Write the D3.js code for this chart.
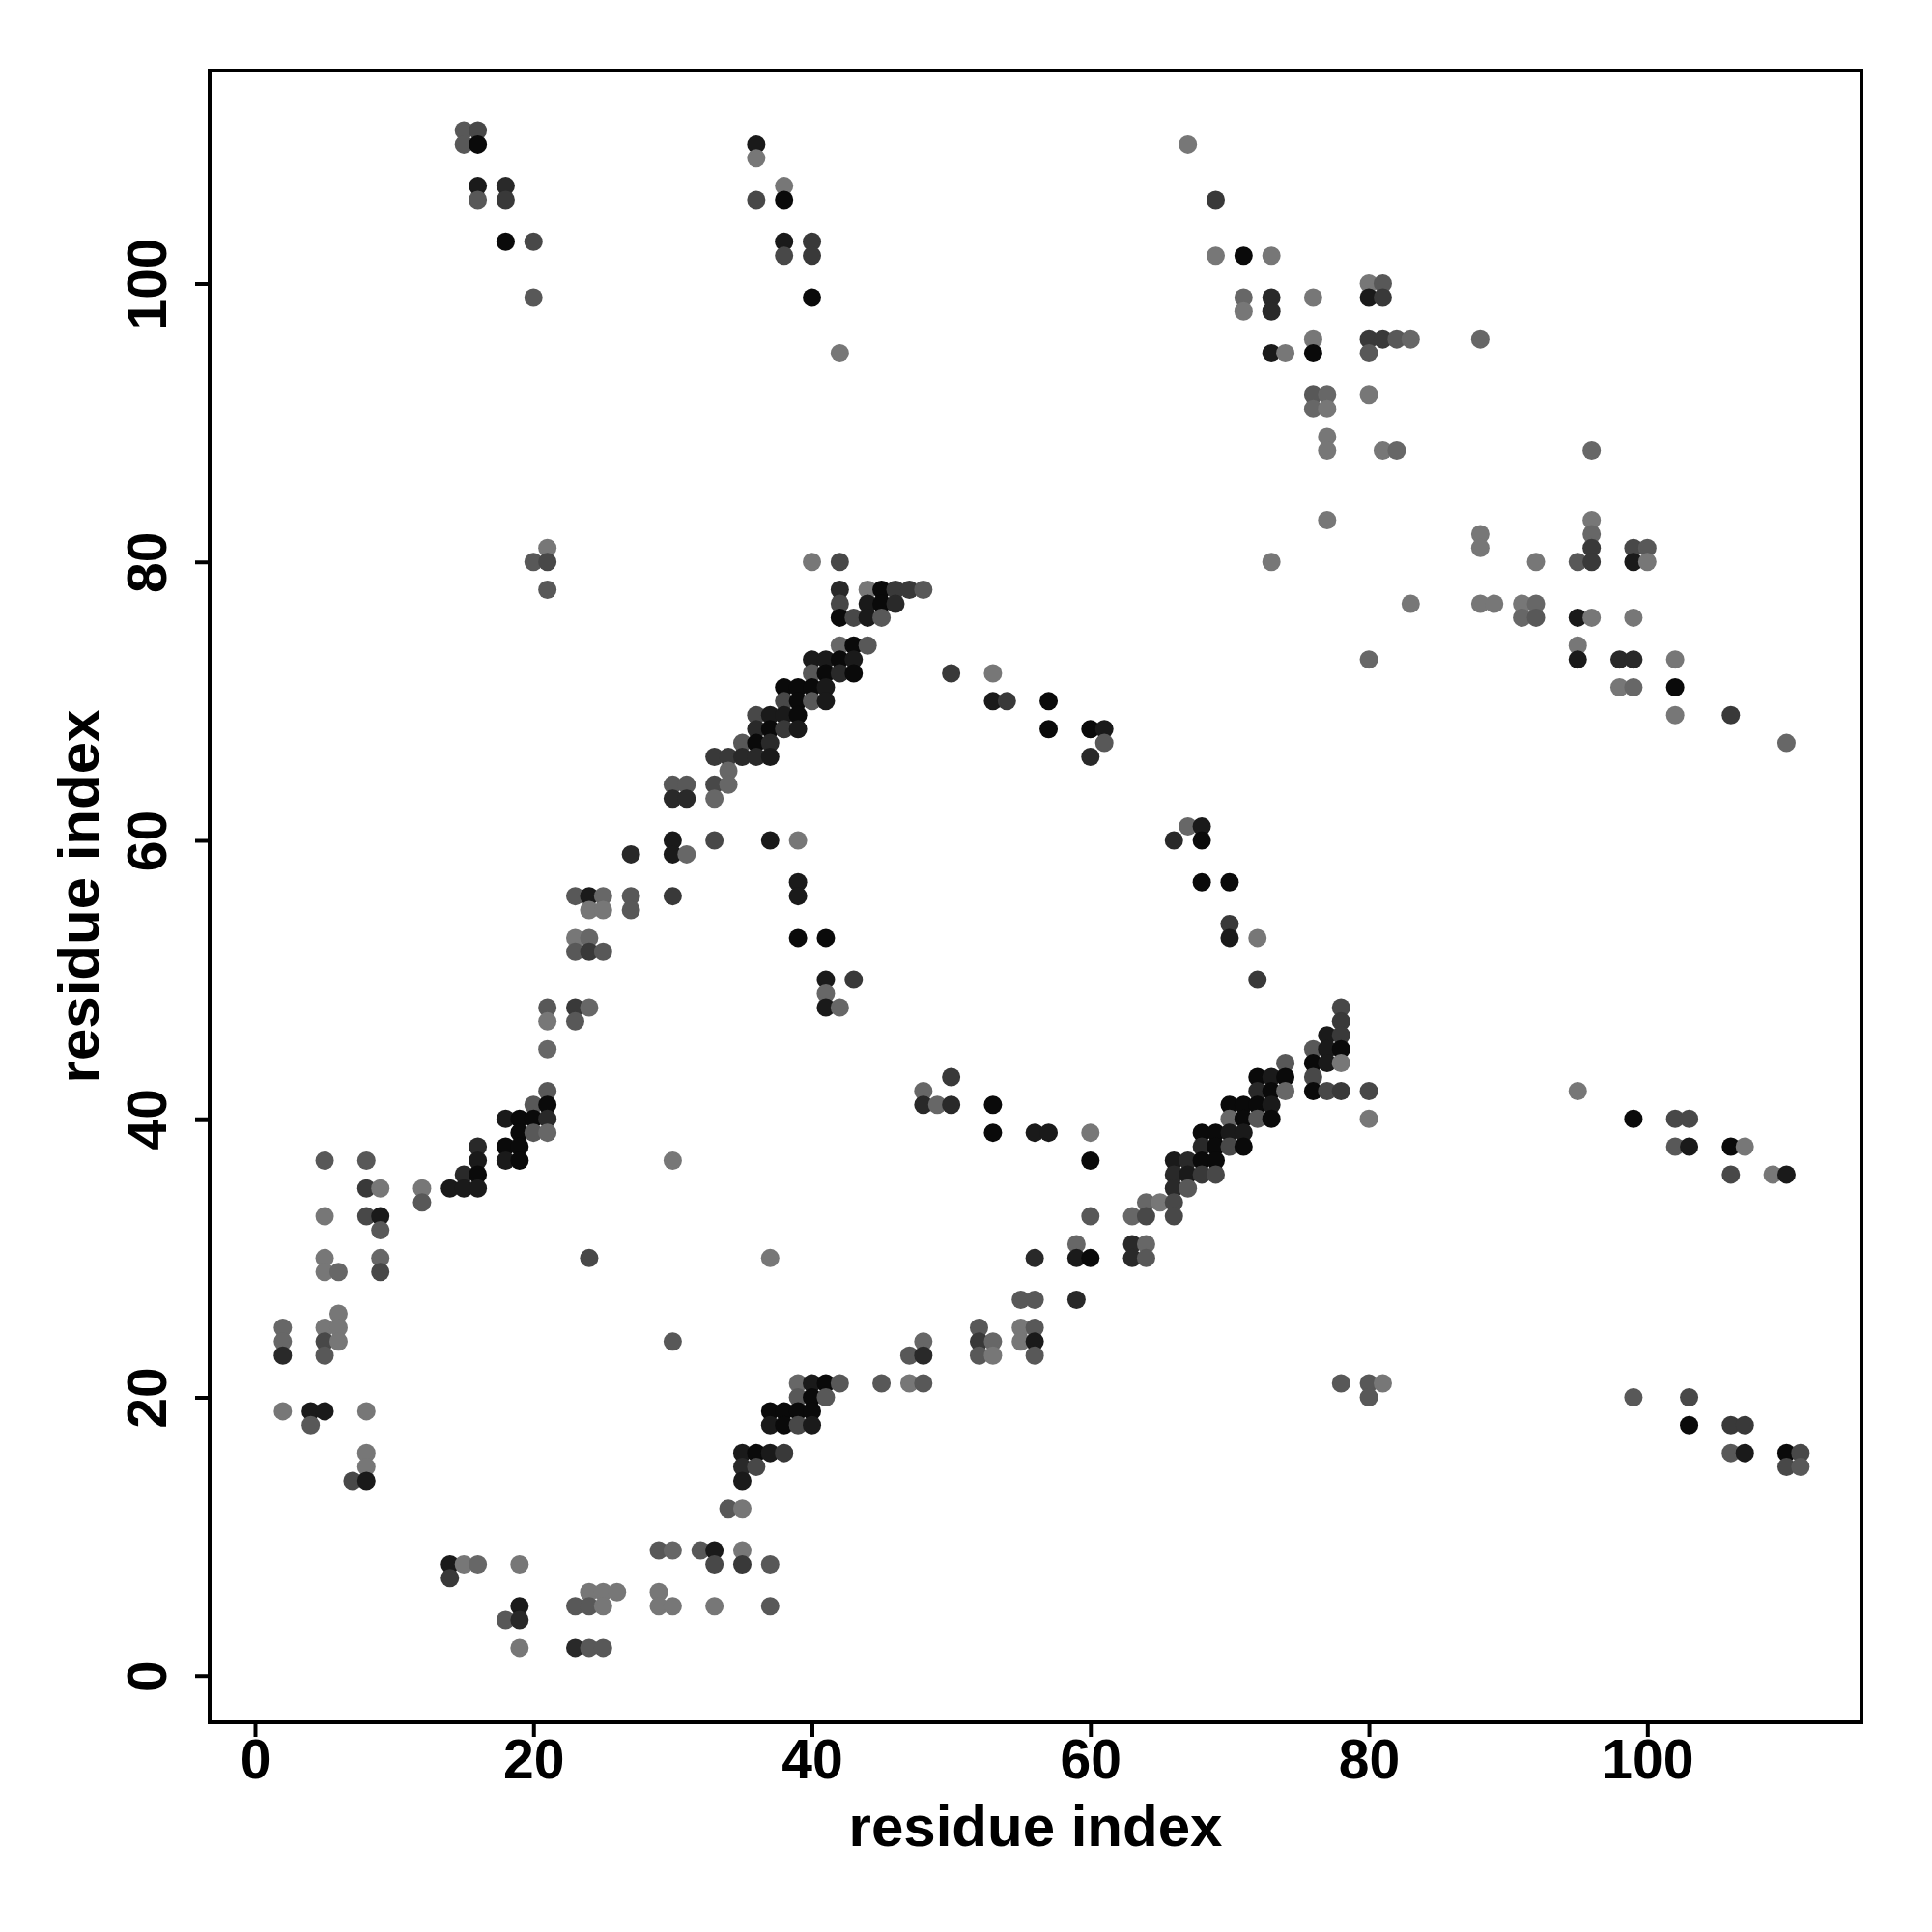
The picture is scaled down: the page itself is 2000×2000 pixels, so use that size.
<!DOCTYPE html>
<html><head><meta charset="utf-8">
<script src="https://cdn.jsdelivr.net/npm/d3@7"></script>
<style>body{margin:0;background:#fff}</style>
</head><body>
<svg id="chart" width="2000" height="2000"></svg>
<script>
// contact pairs [i, j] grouped by shade (0 = lightest grey ... 7 = black)
const shade0 = [[36,109],[38,107],[42,95],[67,110],[69,102],[73,102],[71,98],[74,95],[76,96],[76,99],[80,100],[80,92],[77,91],[77,89],[77,88],[81,88],
 [77,83],[88,82],[88,81],[92,80],[96,83],[100,80],[83,77],[88,77],[89,77],[91,77],[96,76],[99,76],[95,74],[102,73],[98,71],[102,69],
 [21,81],[40,80],[73,80],[44,78],[53,72],[39,60],
 [24,55],[25,55],[23,53],[21,47],[12,35],[9,35],[5,33],[5,30],[5,29],[30,37],
 [6,26],[5,25],[6,25],[6,24],[2,19],[8,19],[8,16],[8,15],[35,12],[35,9],[15,8],[19,8],[24,6],[25,6],[26,6],[29,6],[25,5],[29,5],[30,5],[33,5],[19,2],
 [55,25],[55,24],[53,23],[47,21],[72,53],[60,39],[65,34],[37,30],
 [78,44],[80,40],[95,42],[107,38],[109,36],[81,21]];
const shade1 = [[71,99],[83,96],[88,96],[77,92],[76,91],[82,88],[96,88],
 [96,82],[92,77],[91,76],[80,73],[99,71],[110,67],
 [34,65],[34,64],[33,63],[25,56],[31,59],[42,74],[67,61],
 [24,53],[24,48],[21,45],[21,39],[9,30],[6,29],[2,25],[2,24],[30,9],[16,8],
 [48,24],[53,24],[39,21],[41,49],[42,48],[48,42],[49,41],[63,33],[64,34],[70,40],[74,42],[59,31],[64,31]];
const shade2 = [[15,111],[15,110],[16,106],[20,99],[81,100],[82,96],[80,95],[76,92],
 [95,80],[100,81],[92,76],
 [20,80],[21,78],[35,67],[30,64],[31,64],[23,56],[27,56],
 [48,78],[45,76],[44,74],[40,72],[40,70],[61,67],
 [27,55],[23,52],[25,52],[21,48],[23,47],[21,42],[20,41],[20,39],[12,34],[5,37],[8,37],[9,32],
 [5,23],[30,24],[4,18],[34,12],[29,9],[32,9],[23,5],[24,5],[18,4],[24,2],[25,2],
 [52,25],[56,25],[47,23],[52,23],[56,23],[42,21],[45,21],[48,21],[39,20],[41,20],[37,8],[37,5],
 [60,33],[67,35],[72,40],[74,44],[64,30],[55,27],[56,27],
 [76,45],[102,38],[78,21],[80,21],[80,20],[99,20],[106,16],[111,15]];
const shade3 = [[16,111],[20,103],[36,106],[38,102],[99,81],
 [21,80],[36,69],[33,64],[33,60],[42,80],[42,77],[43,76],[38,70],
 [8,33],[9,29],[24,30],[5,24],[7,14],[36,15],[33,8],[39,18],
 [64,33],[66,33],[66,34],[69,36],[70,38],
 [78,48],[76,43],[77,42],[80,42],[102,40],[103,40],[106,36],[103,20],[111,16],[110,15]];
const shade4 = [[18,106],[40,103],[40,102],[69,106],[81,99],[80,96],[81,96],
 [96,81],[96,80],[106,69],[33,66],[34,66],[30,56],
 [46,78],[47,78],[38,68],[50,72],[54,70],[24,52],[23,48],[8,35],
 [35,8],[14,7],[52,24],[38,16],[43,50],[70,54],[72,50],[50,43],[68,36],
 [78,47],[78,46],[78,42],[106,18],[107,18]];
const shade5 = [[18,107],[73,99],[73,98],[98,73],[99,73],
 [36,68],[35,66],[36,66],[30,63],[31,63],[27,59],
 [42,78],[46,77],[42,72],[37,67],[60,66],[66,60],
 [21,40],[16,38],[15,36],[2,23],[35,15],[19,4],[23,2],[48,23],
 [48,41],[50,41],[66,35],[66,36],[67,37],[68,38],[72,42],[56,30],[63,31],[63,30],[59,27]];
const shade6 = [[16,107],[36,110],[38,103],[73,95],[80,99],[99,80],[95,76],[95,73],
 [30,60],[30,59],[24,56],
 [44,77],[44,76],[40,73],[41,73],[43,73],[41,71],[41,70],[37,69],[38,69],[39,68],[37,66],[53,70],[61,68],[68,61],[37,60],[39,57],[39,56],
 [18,40],[18,37],[16,37],[14,35],[15,35],[16,35],[9,33],
 [4,19],[5,19],[8,14],[35,16],[35,14],[33,9],[14,8],[19,5],
 [56,24],[40,21],[37,18],[40,18],[37,16],
 [41,50],[41,48],[70,53],[56,39],[57,39],[67,36],[66,37],[70,39],[71,39],[73,41],[73,43],[59,30],
 [77,46],[77,45],[77,44],[103,38],[110,36],[107,16]];
const shade7 = [[16,110],[18,103],[38,106],[40,99],[71,102],[76,95],[102,71],[36,67],
 [45,78],[45,77],[42,76],[43,74],[42,73],[41,72],[43,72],[38,71],[39,71],[40,71],[39,70],[39,69],[37,68],[57,70],[57,68],[60,68],[68,60],[68,57],[70,57],
 [21,41],[19,40],[20,40],[19,39],[18,38],[19,38],[19,37],[16,36],[36,16],
 [41,21],[40,20],[37,19],[38,19],[39,19],[40,19],[38,18],
 [39,53],[41,53],[53,41],[53,39],[60,37],[68,37],[69,37],[69,38],[71,38],[68,39],[69,39],[71,40],[73,40],[70,41],[71,41],[72,41],[73,42],[72,43],[74,43],[60,30],
 [78,45],[76,44],[76,42],[99,40],[106,38],[103,18],[110,16]];
const shadeGroups = [shade0, shade1, shade2, shade3, shade4, shade5, shade6, shade7];
const xTicks = [0, 20, 40, 60, 80, 100];
const yTicks = [0, 20, 40, 60, 80, 100];
const xTitle = "residue index";
const yTitle = "residue index";

const plot = {left: 217, right: 1927, top: 73, bottom: 1783};
const font = "'Liberation Sans', Arial, Helvetica, sans-serif";
const x = d3.scaleLinear().domain([-3.26, 115.38]).range([plot.left, plot.right]);
const y = d3.scaleLinear().domain([-3.35, 115.3]).range([plot.bottom, plot.top]);
const color = d3.scaleLinear().domain([0, 7]).range(["#777777", "#0a0a0a"]);

const pts = [];
shadeGroups.forEach((g, lv) => g.forEach(([i, j]) => pts.push({i, j, lv})));
pts.sort((a, b) => a.i - b.i || b.j - a.j);

const svg = d3.select("#chart");
svg.append("rect").attr("width", 2000).attr("height", 2000).attr("fill", "#fff");

svg.append("g").selectAll("circle").data(pts).join("circle")
  .attr("cx", d => x(d.i)).attr("cy", d => y(d.j)).attr("r", 9.5)
  .attr("fill", d => color(d.lv));

svg.append("rect")
  .attr("x", plot.left).attr("y", plot.top)
  .attr("width", plot.right - plot.left).attr("height", plot.bottom - plot.top)
  .attr("fill", "none").attr("stroke", "#000").attr("stroke-width", 4);

const gx = svg.append("g").attr("transform", `translate(0,${plot.bottom})`)
  .call(d3.axisBottom(x).tickValues(xTicks).tickSize(15).tickPadding(3).tickFormat(d3.format("d")));
gx.select(".domain").remove();
gx.selectAll(".tick line").attr("stroke", "#000").attr("stroke-width", 4);
gx.selectAll(".tick text").attr("fill", "#000")
  .style("font-family", font).style("font-weight", "bold").style("font-size", "57px");

const gy = svg.append("g").attr("transform", `translate(${plot.left},0)`)
  .call(d3.axisLeft(y).tickValues(yTicks).tickSize(15).tickFormat(d3.format("d")));
gy.select(".domain").remove();
gy.selectAll(".tick line").attr("stroke", "#000").attr("stroke-width", 4);
gy.selectAll(".tick text").attr("fill", "#000")
  .attr("transform", "rotate(-90)").attr("x", 0).attr("y", -45).attr("dy", 0)
  .style("text-anchor", "middle")
  .style("font-family", font).style("font-weight", "bold").style("font-size", "57px");

svg.append("text").attr("x", (plot.left + plot.right) / 2).attr("y", 1911)
  .attr("text-anchor", "middle").style("font-family", font).style("font-weight", "bold")
  .style("font-size", "60px").text(xTitle);
svg.append("text").attr("transform", `translate(102,${(plot.top + plot.bottom) / 2}) rotate(-90)`)
  .attr("text-anchor", "middle").style("font-family", font).style("font-weight", "bold")
  .style("font-size", "60px").text(yTitle);
</script>
</body></html>
